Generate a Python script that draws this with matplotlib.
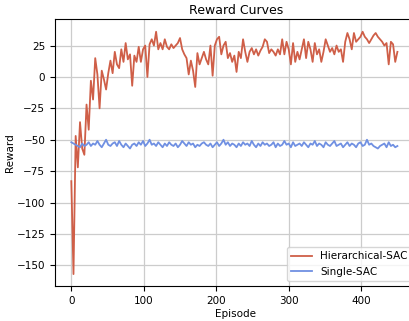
import numpy as np
import matplotlib
matplotlib.use('Agg')
import matplotlib.pyplot as plt

hier_sac = [-83, -157, -47, -72, -36, -57, -62, -22, -42, -3,
            -18, 15, 2, -25, 5, -2, -10, 3, 13, 3,
            20, 10, 7, 22, 12, 27, 14, 18, -7, 17,
            12, 24, 12, 22, 25, 0, 26, 30, 25, 36,
            22, 27, 22, 30, 24, 22, 26, 23, 25, 27,
            31, 22, 18, 15, 2, 13, 5, -8, 19, 10,
            15, 20, 14, 10, 25, 1, 25, 30, 32, 18,
            25, 28, 15, 19, 12, 17, 4, 20, 15, 30,
            20, 12, 20, 23, 18, 22, 17, 21, 24, 30,
            28, 19, 22, 20, 17, 22, 18, 30, 18, 28,
            22, 10, 27, 12, 20, 14, 22, 30, 15, 28,
            22, 12, 27, 18, 22, 12, 20, 30, 25, 20,
            23, 18, 25, 20, 22, 12, 28, 35, 30, 22,
            35, 28, 30, 32, 36, 32, 30, 27, 30, 33,
            35, 32, 30, 28, 25, 27, 10, 28, 26, 12,
            20]

single_sac = [-52, -53, -54, -55, -56, -53, -55, -54, -52, -55,
              -53, -54, -51, -54, -56, -53, -50, -54, -55, -53,
              -52, -55, -51, -54, -56, -53, -55, -57, -54, -53,
              -55, -52, -54, -51, -55, -53, -50, -54, -53, -55,
              -52, -54, -56, -53, -55, -52, -54, -55, -53, -56,
              -54, -51, -53, -55, -52, -54, -53, -56, -54, -55,
              -53, -52, -54, -55, -53, -56, -54, -52, -55, -53,
              -50, -54, -52, -55, -53, -54, -56, -53, -55, -52,
              -54, -53, -55, -51, -54, -56, -53, -55, -52, -54,
              -53, -55, -54, -52, -56, -53, -55, -54, -51, -54,
              -53, -56, -52, -55, -54, -53, -55, -52, -54, -56,
              -53, -54, -51, -55, -53, -54, -56, -52, -54, -55,
              -53, -51, -55, -54, -53, -56, -54, -52, -55, -53,
              -54, -56, -53, -52, -55, -54, -50, -54, -53, -55,
              -56, -57, -55, -54, -53, -56, -52, -55, -54, -56,
              -55]

ep_hier = 3 * np.arange(len(hier_sac))
ep_single = 3 * np.arange(len(single_sac))

fig = plt.figure(figsize=(4.09, 3.21), dpi=100)
# axes run a bit past the right edge, like the cropped original
ax = fig.add_axes([0.1345, 0.109, 0.885, 0.832])

ax.plot(ep_hier, hier_sac, color='#cf5f48', lw=1.3, label='Hierarchical-SAC')
ax.plot(ep_single, single_sac, color='#7090e2', lw=1.3, label='Single-SAC')

ax.set_xlim(-22.5, 477)
ax.set_ylim(-166.5, 46.2)
ax.set_xticks([0, 100, 200, 300, 400])
ax.set_yticks([-150, -125, -100, -75, -50, -25, 0, 25])
ax.grid(True, color='#cccccc', lw=0.9)
ax.set_axisbelow(True)

ax.tick_params(labelsize=7.5)
ax.set_xlabel('Episode', fontsize=7.5, labelpad=2)
ax.set_ylabel('Reward', fontsize=7.5, labelpad=1)
ax.set_title('Reward Curves', fontsize=9, pad=3.5)
ax.legend(loc='lower right', fontsize=7.5)

fig.savefig('out.png', dpi=100)
